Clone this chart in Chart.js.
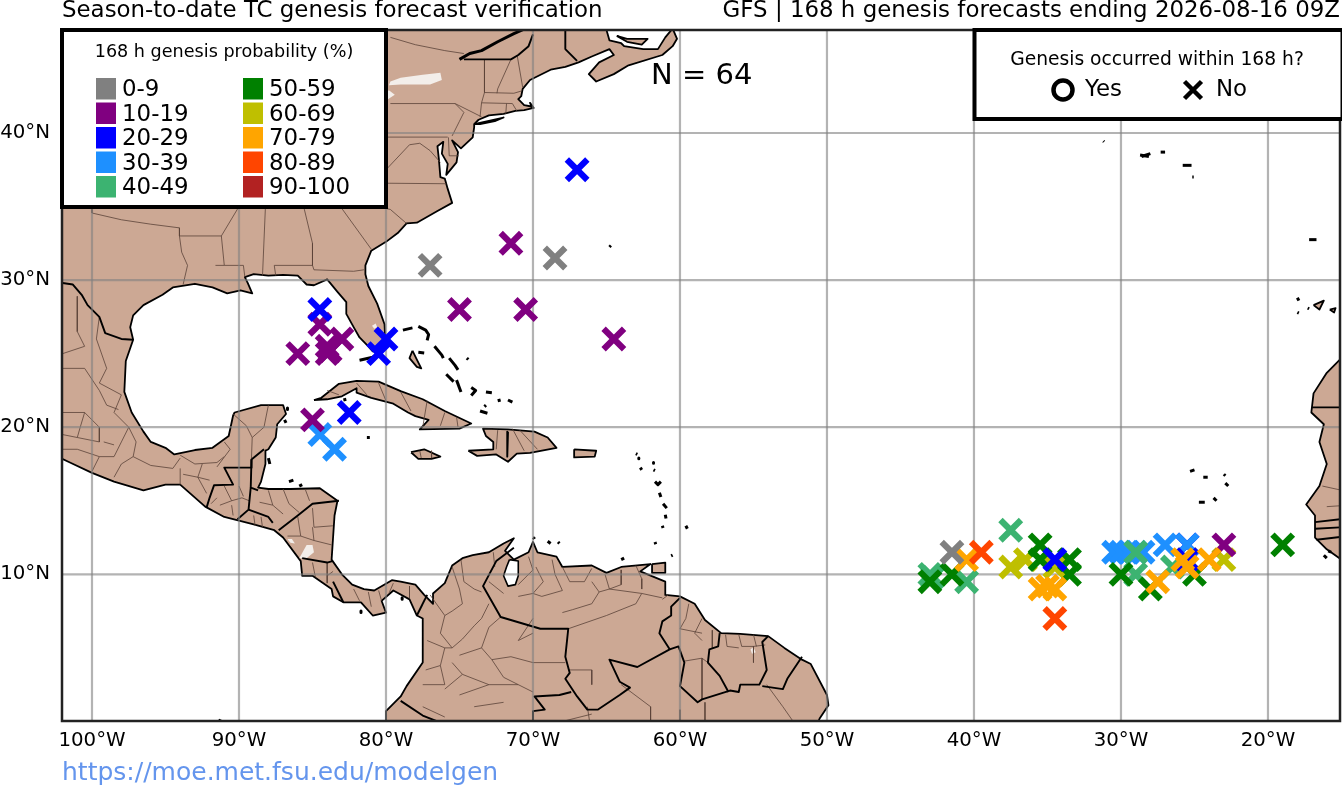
<!DOCTYPE html>
<html>
<head>
<meta charset="utf-8">
<style>
html,body{margin:0;padding:0;background:#fff}
#wrap{position:relative;width:1342px;height:785px}
</style>
<script src="https://cdn.jsdelivr.net/npm/chart.js@4"></script>
</head>
<body>
<div id="wrap"><canvas id="mapa" width="1342" height="785"></canvas></div>
<script>
// axis ticks
var lonTicks = [-100,-90,-80,-70,-60,-50,-40,-30,-20]
var latTicks = [10,20,30,40]

// forecast points, one list per probability bin [lon, lat]
var bin0 = [[-77,31],[-68.5,31.5],[-41.5,11.5]]
var bin10 = [[-71.5,32.5],[-75,28],[-70.5,28],[-64.5,26],[-86,25],[-84.5,27],[-83,26],[-84,25.5],[-84,25],[-83.8,25.2],[-85,20.5],[-23,12]]
var bin20early = [[-25.5,12]]
var bin20 = [[-67,37.5],[-84.5,28],[-80,26],[-80.5,25],[-82.5,21],[-34.5,11],[-25.5,11]]
var bin30 = [[-84.5,19.5],[-83.5,18.5],[-30.5,11.5],[-30,11.5],[-29.5,11.5],[-29,11.5],[-28.5,11.5],[-27,12],[-25.5,12]]
var bin40 = [[-37.5,13],[-43,10],[-40.5,9.5],[-29,11.5],[-29,10],[-26.5,10.5],[-42.8,9.8]]
var bin50 = [[-35.5,12],[-35.5,11],[-33.5,11],[-33.5,10],[-43,9.5],[-41.5,10],[-30,10],[-28,9],[-25,10],[-19,12]]
var bin60 = [[-37.5,10.5],[-36.5,11],[-34.5,10.5],[-23,11],[-25.5,11]]
var bin70 = [[-40.5,11],[-35.5,9],[-34.5,9],[-35,9.2],[-27.5,9.5],[-25.5,10.5],[-25.8,11],[-24,11]]
var bin80 = [[-39.5,11.5],[-34.5,7]]

// land polygons [lon, lat]
var northAmerica = [[-103,48],[-65,48],[-65,47],[-64.8,46.3],[-64,46.1],[-63.8,45.9],[-62.5,45.7],[-61.5,45.7],[-61,46.5],[-60.5,47.1],[-60.2,46.4],[-60.5,45.9],[-61.2,45.3],[-63.5,44.6],[-64.5,44],[-65.7,43.5],[-66.2,44],[-65.5,44.8],[-64.5,45.3],[-64.8,45.7],[-66,45.2],[-66.9,44.8],[-67.8,44.5],[-68.8,44.3],[-70.2,43.6],[-70.7,43],[-70.8,42.5],[-71,42.3],[-70.6,41.9],[-70.1,41.8],[-70.2,42.05],[-69.95,41.7],[-70.6,41.55],[-71.2,41.5],[-72,41.3],[-73,41.2],[-73.7,40.9],[-74,40.6],[-74,40.4],[-74.1,39.7],[-74.9,38.95],[-75.5,39.5],[-75.1,38.7],[-75.2,38],[-75.9,37.15],[-75.8,37.9],[-76.2,38.6],[-76.1,39.4],[-76.5,39.1],[-76.4,38.2],[-76.3,37],[-76,36.9],[-75.8,36.2],[-75.5,35.25],[-76.5,34.7],[-77.9,33.9],[-78.6,33.85],[-79.2,33.2],[-80,32.6],[-81,32],[-81.4,31],[-81.4,30.4],[-81.2,29.6],[-80.6,28.4],[-80.1,27],[-80.05,26],[-80.3,25.3],[-80.9,25.15],[-81.2,25.5],[-81.8,26.1],[-82.2,26.8],[-82.7,27.7],[-82.7,28.5],[-83.3,29.2],[-84,30.05],[-84.9,29.65],[-85.4,29.7],[-86,30.3],[-87,30.35],[-88,30.3],[-89,30.4],[-89.6,30.2],[-89.4,29.8],[-89.1,29.1],[-89.9,29.3],[-90.8,29.1],[-91.8,29.5],[-93,29.75],[-94.5,29.5],[-95.2,29],[-96.5,28.3],[-97.2,27.6],[-97.4,26.8],[-97.2,25.95],[-97.7,24.5],[-97.8,22.4],[-97.3,21],[-96.5,19.7],[-96,19],[-95,18.6],[-94.4,18.15],[-93,18.45],[-91.8,18.6],[-90.7,19.4],[-90.4,20.8],[-90.3,21],[-88.5,21.5],[-87,21.5],[-86.8,20.9],[-87.4,20.2],[-87.5,19.3],[-88,18.5],[-88.2,18.4],[-88.2,17.5],[-88.5,16.3],[-88.7,15.9],[-88,15.8],[-86.5,15.8],[-84.5,15.85],[-83.3,15],[-83.5,14],[-83.6,12.5],[-83.7,11],[-83,10],[-82.3,9.3],[-81.5,9],[-80.8,8.9],[-79.6,9.6],[-79,9.5],[-78,9.3],[-77.4,8.6],[-76.8,8],[-76.8,8.7],[-76,9.4],[-75.5,10.6],[-74.8,11.1],[-74.1,11.3],[-73,11.5],[-72,12.1],[-71.3,12.45],[-71.9,11.6],[-71.3,11],[-70.3,11.5],[-70,12.2],[-69.7,11.5],[-68.4,11.2],[-68,10.5],[-66,10.6],[-65,10.1],[-64,10.5],[-62,10.7],[-62.7,10.2],[-61,9.5],[-61,8.6],[-60,8.5],[-59,8],[-58.3,6.9],[-57.2,6],[-55.9,5.95],[-54,5.8],[-52.9,5],[-51.7,4.2],[-51.1,3.9],[-50,1.8],[-49.9,1.1],[-50.5,0.2],[-51,-1],[-80,-1],[-80,0],[-80,0.7],[-79,1.7],[-78.6,2.4],[-77.5,4],[-77.5,7],[-77.9,7.2],[-78.4,8.3],[-79.5,8.9],[-80.3,8.2],[-80,7.4],[-80.9,7.2],[-81.7,8.1],[-82.9,8.1],[-83.6,8.5],[-83.7,9],[-85,9.9],[-85.7,9.9],[-85.8,10.9],[-87,12.5],[-87.6,13],[-89,13.4],[-91,13.9],[-92.3,14.6],[-94,16.1],[-95,16.1],[-96.5,15.7],[-98.5,16.3],[-100,16.9],[-101.5,17.6],[-103,18.3]]
var africa = [[-14,26],[-15,24.7],[-16,23.7],[-16.9,22.3],[-17.05,21],[-16.2,20.2],[-16.5,19],[-16,17.5],[-16.5,16],[-17.4,14.75],[-16.8,14],[-16.8,12.5],[-16,11.7],[-15,11],[-14,10]]
var cuba = [[-84.9,21.85],[-84.4,22],[-83.2,22.95],[-82,23.15],[-80.5,23.1],[-79,22.45],[-77.5,21.9],[-76,21.1],[-74.2,20.25],[-75,19.9],[-77.7,19.85],[-77.1,20.5],[-78,20.75],[-78.5,21],[-79.5,21.6],[-81,22],[-82,22.35],[-82,22.65],[-83,22.1],[-84,21.9]]
var hispaniola = [[-74.4,18.4],[-73.8,18.05],[-72.5,18.15],[-71.7,17.65],[-71.1,18.2],[-70.2,18.25],[-68.4,18.6],[-69,19.3],[-69.9,19.7],[-71.7,19.85],[-73.4,19.9],[-73.2,19.4],[-72.7,19],[-72.7,18.5]]
var jamaica = [[-78.3,18.3],[-77.4,18.5],[-76.3,18],[-76.9,17.85],[-77.8,17.85]]
var puertoRico = [[-67.2,18.5],[-65.7,18.4],[-65.8,18],[-67.2,17.95]]
var andros = [[-78.2,25.2],[-77.9,24.6],[-77.6,24],[-77.9,24.1],[-78.4,24.7]]
var longIsland = [[-74,40.6],[-72,41.05],[-72.6,40.8],[-73.6,40.6]]
var princeEdward = [[-64.3,46.6],[-63.6,46.4],[-62.2,46.4],[-62.6,46],[-63.6,46.2]]
var trinidad = [[-61.9,10.7],[-61,10.8],[-61,10.1],[-61.9,10.1]]
var smallIslands = [[[-64,11],[-63.8,11.1]],[[-70,12.5],[-69.9,12.45]],[[-69,12.25],[-68.8,12.1]],[[-68.3,12.2],[-68.2,12.1]],[[-60.6,11.25],[-60.5,11.3]],[[-63,18.2],[-62.9,18.15]],[[-62.8,17.9],[-62.8,17.85]],[[-62.7,17.25],[-62.6,17.1]],[[-61.8,17.6],[-61.8,17.55]],[[-61.8,17.1],[-61.7,17.05]],[[-61.7,16.3],[-61.5,16.1],[-61.3,16.3]],[[-61.4,15.55],[-61.3,15.25]],[[-61.15,14.8],[-60.9,14.5]],[[-61,14.05],[-60.95,13.8]],[[-61.2,13.3],[-61.15,13.15]],[[-59.6,13.3],[-59.5,13.1]],[[-61.7,12.2],[-61.65,12.05]],[[-81.8,24.55],[-80.9,24.75],[-80.4,25.1]],[[-78.85,26.6],[-78.2,26.75]],[[-77.8,26.85],[-77.3,26.6],[-77.1,26.3],[-77.2,25.9]],[[-77.8,25.1],[-77.4,25.05]],[[-76.7,25.5],[-76.2,24.9],[-76.1,24.7]],[[-75.7,24.7],[-75.3,24.2],[-75.1,23.9]],[[-74.5,24.7],[-74.4,24.6]],[[-75.9,23.6],[-75.4,23.1]],[[-75.2,23.2],[-74.9,22.4]],[[-74.2,22.7],[-73.9,22.5],[-74.2,22.15]],[[-73.2,22.4],[-72.8,22.35]],[[-72.4,21.8],[-72.2,21.85]],[[-71.7,21.85],[-71.4,21.7]],[[-73.6,21.1],[-73.1,20.95]],[[-73.3,21.4],[-73.2,21.5]],[[-82.9,21.85],[-82.7,21.9]],[[-86.9,20.5],[-86.8,20.3]],[[-86.7,21.3],[-86.7,21.2]],[[-81.3,19.3],[-81.1,19.3]],[[-86.6,16.3],[-86.3,16.4]],[[-85.9,16],[-85.7,16.1]],[[-88,17.9],[-87.9,17.5]],[[-81.7,7.5],[-81.7,7.4]],[[-78.9,8.4],[-78.9,8.3]],[[-91.4,0.1],[-91.2,0]],[[-69.95,12.5],[-69.9,12.4]],[[-64.8,32.25],[-64.7,32.35]],[[-31.2,39.45],[-31.15,39.4]],[[-28.7,38.5],[-28.1,38.4]],[[-28.6,38.4],[-28,38.6]],[[-27.3,38.7],[-27,38.7]],[[-25.8,37.8],[-25.2,37.8]],[[-25.15,37],[-25.05,37]],[[-17.2,32.75],[-16.7,32.75]],[[-18,28.8],[-17.9,28.6]],[[-17.3,28.1],[-17.2,28.05]],[[-18,27.8],[-17.9,27.75]],[[-25.3,17],[-25,17.1]],[[-24.4,16.6],[-24.1,16.6]],[[-23,16.8],[-22.9,16.7]],[[-22.9,16.2],[-22.7,16]],[[-23.7,15.2],[-23.5,15]],[[-24.7,14.9],[-24.3,14.9]],[[-16.2,11.3],[-16,11.1]],[[-15.9,11.6],[-15.7,11.5]]]
var tenerife = [[-16.9,28.3],[-16.2,28.6],[-16.5,28]]
var canaria = [[-15.8,28],[-15.4,28.1],[-15.5,27.8]]

// inland water
var lakes = [[[-79.8,43.25],[-79,43.3],[-77,43.3],[-76.2,43.6],[-76.3,44.1],[-77.5,43.95],[-79,43.75],[-79.7,43.5]],[[-80,42.2],[-79.4,42.6],[-79.8,42.9],[-80,42.75]],[[-85.9,11.1],[-85.4,12],[-85,12],[-84.9,11.5],[-85.4,11.1]],[[-80.95,26.9],[-80.7,27.05],[-80.6,26.8],[-80.8,26.7]],[[-55.2,4.9],[-55,5.05],[-54.85,4.7],[-55.1,4.6]],[[-86.7,12.4],[-86.4,12.4],[-86.2,12.1],[-86.5,12.15]]]
var maracaibo = [[-71.6,11],[-71,10.9],[-71,9.9],[-71.2,9.3],[-71.7,9.2],[-72,9.9],[-71.8,10.5]]
var stLawrence = [[-75,45],[-74.3,45.4],[-73.5,45.6],[-72.4,46.2],[-71.3,46.75],[-70.3,47.2],[-69.8,47.5]]

// thick country borders
var countryLines = [
[[-102,29.8],[-101.3,29.7],[-100.7,29],[-100.3,28.3],[-99.5,27.5],[-99.1,26.4],[-98,26],[-97.2,25.95]],
[[-74.7,45],[-71.5,45],[-71,45.3],[-70.3,45.9],[-70,46.7]],
[[-69.2,47.4],[-67.8,47],[-67.8,45.7],[-67,44.9]],
[[-92.2,14.55],[-92,15.2],[-91.7,16.05],[-90.4,16.1],[-91,17.25],[-89.15,17.25],[-89.15,17.8],[-88.3,18.5]],
[[-89.15,17.8],[-89.2,15.9],[-88.7,15.7]],
[[-89.2,15.9],[-89.35,14.4],[-90.1,13.75]],
[[-89.35,14.4],[-88,13.9],[-87.7,13.5]],
[[-87.3,13],[-86,14],[-85,14.8],[-83.2,15]],
[[-85.7,11.1],[-84,10.8],[-83.65,10.9]],
[[-83.6,9.5],[-82.9,8.1]],
[[-77.9,7.2],[-77.2,8.6]],
[[-71.3,11.8],[-72.5,10.9],[-73.4,9.2],[-72.2,7.1],[-69.5,6.3],[-67.6,6.3],[-67.8,4.4],[-67.5,3.3],[-67.8,2.9],[-67,1.7],[-66.3,0.8],[-65.6,0.8],[-64.1,1.8],[-63.4,2.3],[-64.1,2.7],[-64.8,4.2],[-62.9,3.7],[-60.7,4.9],[-61.4,6],[-61.2,6.8],[-60.6,7.2],[-60.6,7.8],[-60,8.4]],
[[-60.7,4.9],[-60.1,5.1],[-59.7,4],[-60,2.4],[-58.8,1.3],[-58.5,1.5],[-56.6,2.1],[-56,2],[-55.9,2.5],[-54.6,2.5],[-54.1,3.5],[-54.4,5.4],[-54,5.8]],
[[-57.3,6],[-57.4,5.1],[-58,4.9],[-58.1,4],[-57.3,3.1],[-56.7,2]],
[[-54.4,2.4],[-53,2.2],[-52.7,2.9],[-51.7,4.4]],
[[-70,-0.2],[-70,0.7],[-69.2,0.8],[-69.9,1.7],[-68.2,1.8],[-67.4,2]],
[[-79,1.4],[-77.5,0.4],[-76.5,0]],
[[-71.7,19.7],[-71.75,18]],
[[-17,21.35],[-14,21.35]],
[[-16.8,13.55],[-15,13.75]],
[[-16.8,13.1],[-15,13.2]],
[[-16.7,12.35],[-14.5,12.6]]
]

// thin state and department borders
var stateLines = [
[[-102,36.5],[-100,36.5],[-100,34.56],[-98,34.1],[-96,33.8],[-94.05,33.55],[-94.05,33],[-93.9,31.9],[-93.5,31],[-93.8,29.7]],
[[-94.05,33],[-91.2,33]],[[-94.6,36.5],[-90.15,36.5]],
[[-91.2,33],[-91,31],[-89.7,31],[-89.6,30.2]],[[-91.6,31],[-91,31]],
[[-91.2,33],[-90,35],[-89.2,37]],
[[-88.2,35],[-88.4,30.3]],[[-90,35],[-84.3,35],[-81.7,36.6],[-75.9,36.55]],
[[-85.6,35],[-85,32.5],[-85,31],[-87.6,31],[-87.5,30.3]],[[-85,31],[-84.9,30.7],[-82.2,30.6],[-81.5,30.7]],
[[-83.1,35],[-81,32.1]],[[-83.1,35],[-81,35.1],[-79.7,34.8],[-78.6,33.85]],
[[-81.7,37.2],[-80,37.5],[-78.4,39.2],[-77.7,39.3]],[[-77.7,39.3],[-77,38.8],[-76.3,38]],
[[-80.5,39.72],[-75.8,39.72]],[[-75.75,39.7],[-75.7,38.45],[-75.05,38.45]],
[[-79.7,42],[-75.3,42],[-74.7,41.4],[-75,40.8],[-75.5,39.8]],[[-75.3,42],[-73.5,41.1]],
[[-73.3,45],[-73.3,42.75],[-73.5,42.05],[-73.6,41.1]],[[-71.5,45],[-72.4,43],[-72.45,42.7]],
[[-71.08,45.3],[-70.7,43.1]],[[-73.3,42.75],[-71.3,42.7],[-70.8,42.85]],
[[-73.5,42.05],[-71.4,42],[-71.1,41.5]],[[-71.8,42],[-71.85,41.3]],
[[-102,35],[-100,35]],[[-79.7,46.5],[-78,46],[-76,45.6],[-74.7,45.4]],
[[-99.5,27.5],[-99.7,26],[-99,24],[-99.5,23],[-98,22.2]],[[-101,28.9],[-101,26.5],[-100.5,25.5],[-102,25]],
[[-102,24],[-100.5,24],[-99.5,22.5],[-99,21.5],[-98.2,21.2]],
[[-98,22.2],[-98.5,21],[-97.5,20],[-97,19],[-97.2,18],[-96,17.4],[-94.5,17.2],[-94,17.9]],
[[-102,21],[-100.5,21],[-99.5,20],[-99.5,19],[-101,19.3],[-102,19.5]],[[-100.5,21],[-100.8,20],[-101,19.3]],
[[-99.5,18],[-98.5,18],[-98,19],[-97.5,20]],[[-99.2,19],[-98.5,18.8]],[[-100,17],[-99.5,18],[-101,18.5],[-102,18.5]],
[[-98.5,16.6],[-98,17.5],[-97.2,18]],[[-94,16.1],[-94,17.2]],[[-94,18.1],[-93,17.5],[-91.5,17.6],[-91,18]],
[[-90.4,20.9],[-89.5,20.1],[-89.1,19.3],[-89.15,17.9]],[[-88,21.5],[-88.3,20],[-89.1,19.3]],
[[-91.5,17.3],[-90.6,18.5],[-91,19]],[[-92.5,17.5],[-92.8,16.6],[-92.2,15.5]],[[-93.8,16.8],[-92.8,16.6],[-92,16.4]],
[[-91,16],[-90.5,15],[-91.3,14.7]],[[-90.5,15],[-89.8,15.2],[-89.3,15]],[[-90.5,14.7],[-90.4,14]],[[-91.5,15.2],[-91.9,14.8]],[[-90,16],[-89.7,15.3]],
[[-89,14],[-88.9,13.3]],[[-88.5,13.9],[-88.4,13.2]],
[[-88,15.7],[-87.7,14.7],[-87,14.1]],[[-87,15.8],[-86.6,14.8],[-85.9,14.2]],[[-85.5,15.8],[-85.2,15]],[[-87.7,14.7],[-88.6,14.9]],
[[-86,13.9],[-85.8,12.6],[-86.7,12.6]],[[-85,14.5],[-84.9,13.2],[-83.6,13.3]],[[-85.8,12.6],[-84.9,12.3],[-83.7,12]],[[-85,13.2],[-84.9,12.3]],
[[-85,10.8],[-84.8,9.8]],[[-84,10.8],[-84,9.4]],[[-83.6,10.2],[-84,9.9]],
[[-82.2,9],[-81.8,8.2]],[[-81.2,8.8],[-81,7.8]],[[-80.5,8.9],[-80.3,8.2]],[[-79.5,9.4],[-79.8,8.7]],[[-78.4,9.2],[-78.4,8.4]],
[[-77,8.6],[-76,7.2],[-76.3,6],[-75.5,5],[-74.8,5.6],[-74,6.5],[-73.5,7],[-73,8]],[[-75.5,10.5],[-75,9],[-74.8,8],[-75.5,7.5],[-76,7.2]],[[-74.9,11],[-74.7,9.5],[-74,9],[-73.5,8.8]],
[[-77.2,5.5],[-76,5],[-76.3,3.8],[-77.3,3.5]],[[-76,5],[-75.5,5]],[[-76.3,3.8],[-76,2.5],[-77.5,2.5]],[[-75.5,4],[-74.8,3.2],[-76,2.2]],
[[-75,4.5],[-73.5,5],[-73,6.4],[-72.2,7.1]],[[-73.5,5],[-72.8,4.2],[-71.5,4.4],[-70,4]],[[-73,2.5],[-74.8,3.2]],[[-72.8,4.2],[-72,3],[-71,2.5],[-70,2]],[[-70,4],[-67.8,4]],[[-75,1.8],[-73,2.5],[-71,2.5]],[[-72,1.3],[-74,1]],
[[-70,7],[-71,5.5],[-70,6]],[[-72.7,11.5],[-72.6,10.5]],[[-73,9.5],[-72,8.7]],
[[-70.3,11.2],[-70,10.3],[-71,9.3]],[[-69.8,10.5],[-69.3,9.5],[-70,8.7],[-71,8.5]],[[-68.7,11],[-68.5,10],[-68,8.9],[-69.4,8.5],[-70,8.7]],[[-68,10.5],[-67.5,9.5],[-66.5,9.5],[-66,10.4]],[[-66,9.5],[-65.5,8.8],[-66,8],[-67.3,7.6],[-68,7.4]],[[-65.1,10],[-64.8,9],[-65.5,8.8]],[[-64,10.3],[-64,9.3],[-64.8,9]],[[-63,10.6],[-62.6,9.7],[-62.6,9]],[[-64.8,9],[-62.6,8.7],[-61.2,8.4]],[[-67.6,6.3],[-65,7.2],[-63,8],[-62.6,8.7]],[[-61.2,8.3],[-60.8,8.6]],
[[-58.5,7],[-59,6],[-58.5,5.5]],[[-59.4,8],[-59.6,7],[-60,6.3]],[[-60,6.3],[-58.5,6]],[[-57.8,6.2],[-57.8,5]],[[-59.7,4.1],[-58.5,4.3],[-58.1,4]],[[-58.5,4.3],[-58.5,1.5]],[[-56.9,5.9],[-56.8,5.1],[-56,5]],[[-56,5.9],[-55.8,5.1],[-55,5.1],[-55,4]],[[-55,5.9],[-54.8,5.1]],[[-54.2,5.2],[-55,5.1]],
[[-67.6,3.5],[-66,3.5],[-66,2.5]],[[-64,2.5],[-62,1],[-62,0]],[[-60,0],[-58.3,0]],[[-60,0.8],[-60,-1]],[[-58.3,1.3],[-58.3,0]],[[-54.1,2.5],[-53,1],[-52.3,0]],[[-68,0],[-66,0.5]],[[-66.3,1],[-66,-1]],[[-77.5,1],[-76,0.3]],[[-71.4,19.9],[-70.6,18.4]],[[-70.9,19.8],[-69.7,18.5]],[[-72.4,19.8],[-72.5,18.5]],[[-84,22.5],[-83.2,22.2]],[[-82,23],[-81.3,22.2]],[[-80.5,23],[-80,21.8]],[[-79,22.4],[-78.3,21.1]],[[-77.2,21.8],[-77.5,20]],[[-76,21],[-76.3,20.1]],[[-75.2,20.7],[-75.1,20]],[[-77.7,18.4],[-77.6,17.9]],[[-76.9,18.4],[-76.9,17.9]],[[-16.3,16],[-14,15.5]],[[-16,14.6],[-14.5,14.7]]
]

// colours of the bins and their legend names, low to high
var binNames = ['0-9','10-19','20-29','30-39','40-49','50-59','60-69','70-79','80-89','90-100']
var binColors = ['#808080','#800080','#0000ff','#1e90ff','#3cb371','#008000','#bfbf00','#ffa500','#ff4500','#b22222']

var toXY = function(list){ return list.map(function(p){ return {x:p[0],y:p[1]} }) }
var landColor = '#cca894'
var xMin = -102.04, xMax = -15.1, yMin = 0.03, yMax = 47

var datasets = []
function polyline(list,color,width,order){
    datasets.push({data:toXY(list),showLine:true,fill:false,borderColor:color,borderWidth:width,pointRadius:0,order:order,tension:0,borderJoinStyle:'round'})
}
function polygon(list,fillc,edge,width,order){
    var closed = list.concat([list[0]])
    datasets.push({data:toXY(closed),showLine:true,fill:'shape',backgroundColor:fillc,borderColor:edge,borderWidth:width,pointRadius:0,order:order,tension:0,borderJoinStyle:'round'})
}

;[northAmerica,africa,cuba,hispaniola,jamaica,puertoRico,andros,longIsland,princeEdward,trinidad,tenerife,canaria].forEach(function(p){
    polygon(p,landColor,'#000',1.8,60)
})
smallIslands.forEach(function(p){ polyline(p,'#000',3,59) })
polyline(stLawrence,'#000',3,59)
lakes.forEach(function(p){ polygon(p,'#f3eeea','rgba(243,238,234,0)',0,58) })
polygon(maracaibo,'#fff','#000',1.6,58)
stateLines.forEach(function(p){ polyline(p,'#5a4338',0.8,57) })
countryLines.forEach(function(p){ polyline(p,'#000',1.9,56) })

lonTicks.forEach(function(v){ polyline([[v,yMin],[v,yMax]],'rgba(128,128,128,0.6)',2.2,50) })
latTicks.forEach(function(v){ polyline([[xMin,v],[xMax,v]],'rgba(128,128,128,0.6)',2.2,50) })

// later entries sit on top
var markerLayers = [[bin20early,2],[bin60,6],[bin30,3],[bin40,4],[bin50,5],[bin10,1],[bin20,2],[bin70,7],[bin0,0],[bin80,8]]
markerLayers.forEach(function(l,i){
    datasets.push({data:toXY(l[0]),pointStyle:'crossRot',pointRadius:14.5,pointBorderWidth:6.2,pointBorderColor:binColors[l[1]],pointBackgroundColor:binColors[l[1]],showLine:false,order:20-i})
})

function txt(ctx,s,x,y,size,align,color){
    ctx.font = size+'px "DejaVu Sans"'
    ctx.textAlign = align||'left'
    ctx.textBaseline = 'alphabetic'
    ctx.fillStyle = color||'#000'
    ctx.fillText(s,x,y)
}

var panels = {
    id:'panels',
    afterDraw:function(chart){
        var ctx = chart.ctx, a = chart.chartArea
        ctx.save()
        // frame
        ctx.strokeStyle = '#222'
        ctx.lineWidth = 2.5
        ctx.strokeRect(a.left,a.top,a.right-a.left,a.bottom-a.top)

        txt(ctx,'N = 64',651,84,29)

        // left key
        ctx.fillStyle = '#fff'
        ctx.fillRect(62,30,324,177)
        ctx.strokeStyle = '#000'
        ctx.lineWidth = 4
        ctx.strokeRect(62,30,324,177)
        txt(ctx,'168 h genesis probability (%)',224,57,17.6,'center')
        binNames.forEach(function(n,i){
            var col = i<5?0:1, row = i%5
            var x = col?243:96, y = 78+row*24.5
            ctx.fillStyle = binColors[i]
            ctx.fillRect(x,y,20,21.5)
            txt(ctx,n,x+26,y+18,22.9)
        })

        // right key
        ctx.fillStyle = '#fff'
        ctx.fillRect(974,30,368,89)
        ctx.strokeStyle = '#000'
        ctx.lineWidth = 4
        ctx.strokeRect(974.5,30,368,89)
        txt(ctx,'Genesis occurred within 168 h?',1157,65,18.7,'center')
        ctx.lineWidth = 4.5
        ctx.beginPath()
        ctx.arc(1063,90,9.5,0,Math.PI*2)
        ctx.stroke()
        ctx.beginPath()
        ctx.moveTo(1184.5,81.5);ctx.lineTo(1201.5,98.5)
        ctx.moveTo(1201.5,81.5);ctx.lineTo(1184.5,98.5)
        ctx.stroke()
        txt(ctx,'Yes',1085,96,22.9)
        txt(ctx,'No',1216,96,22.9)

        // titles and link
        txt(ctx,'Season-to-date TC genesis forecast verification',62,17,22.9)
        txt(ctx,'GFS | 168 h genesis forecasts ending 2026-08-16 09Z',1340,17,22.9,'right')
        txt(ctx,'https://moe.met.fsu.edu/modelgen',62,780,25,'left','#6495ed')
        ctx.restore()
    }
}

var mapa = new Chart(document.getElementById('mapa'),{
    type:'scatter',
    data:{datasets:datasets},
    options:{
        responsive:false,
        animation:false,
        layout:{autoPadding:false,padding:{top:30,right:2,left:0,bottom:0}},
        plugins:{legend:{display:false},tooltip:{enabled:false},title:{display:false}},
        scales:{
            x:{
                type:'linear',min:xMin,max:xMax,
                grid:{display:false,drawTicks:false},border:{display:false},
                afterBuildTicks:function(s){ s.ticks = lonTicks.map(function(v){ return {value:v} }) },
                afterFit:function(s){ s.height = 64; s.paddingLeft = 0; s.paddingRight = 0 },
                ticks:{autoSkip:false,maxRotation:0,padding:8,color:'#000',font:{family:'DejaVu Sans',size:19.8},callback:function(v){ return Math.abs(v)+'°W' }}
            },
            y:{
                type:'linear',min:yMin,max:yMax,
                grid:{display:false,drawTicks:false},border:{display:false},
                afterBuildTicks:function(s){ s.ticks = latTicks.map(function(v){ return {value:v} }) },
                afterFit:function(s){ s.width = 62; s.paddingTop = 0; s.paddingBottom = 0 },
                ticks:{autoSkip:false,padding:12,color:'#000',font:{family:'DejaVu Sans',size:19.8},callback:function(v){ return v+'°N' }}
            }
        }
    },
    plugins:[panels]
})
</script>
</body>
</html>
